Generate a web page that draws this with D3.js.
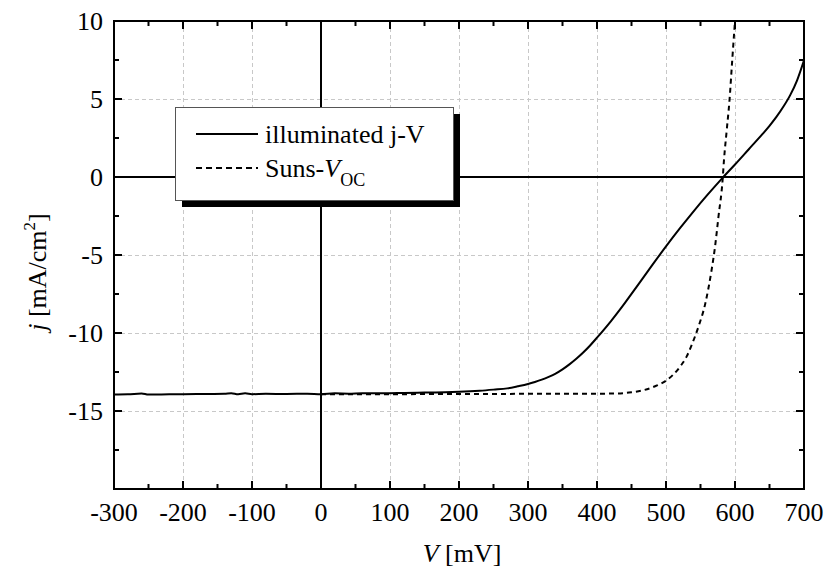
<!DOCTYPE html>
<html>
<head>
<meta charset="utf-8">
<script src="https://cdn.jsdelivr.net/npm/d3@7"></script>
<style>
  html, body { margin: 0; padding: 0; background: #fff; }
  svg { display: block; font-family: "Liberation Serif", "Times New Roman", serif; }
</style>
</head>
<body>
<svg id="chart" width="834" height="571"></svg>
<script>
// ---------- data ----------
const illumV = [-300,-280,-260,-250,-220,-200,-160,-140,-130,-120,-110,-100,-80,-50,-20,0,20,40,60,80,100,120,150,180,200,230,250,270,285,300,310,320,330,340,350,360,370,380,390,400,420,440,460,480,500,520,540,560,580,600,620,640,650,660,670,680,690,700];
const illumJ = [-13.94,-13.93,-13.88,-13.95,-13.93,-13.92,-13.91,-13.9,-13.86,-13.93,-13.87,-13.92,-13.9,-13.91,-13.89,-13.93,-13.87,-13.89,-13.86,-13.87,-13.86,-13.84,-13.82,-13.8,-13.77,-13.7,-13.63,-13.55,-13.42,-13.27,-13.14,-12.99,-12.81,-12.6,-12.33,-12.01,-11.65,-11.25,-10.8,-10.3,-9.25,-8.1,-6.88,-5.65,-4.45,-3.3,-2.2,-1.15,-0.15,0.8,1.78,2.76,3.28,3.85,4.5,5.25,6.2,7.48];
const sunsV = [0,100,200,300,400,430,450,467,485,501,520,530,537,547,557,566,571,576,582,584,588,592,596,600];
const sunsJ = [-13.92,-13.92,-13.91,-13.9,-13.89,-13.88,-13.8,-13.67,-13.4,-13.03,-12.18,-11.5,-10.79,-9.6,-8.1,-5.98,-4.49,-2.56,-0.2,1.07,3.0,4.9,7.5,10.0];
const xMajor = [-300,-200,-100,0,100,200,300,400,500,600,700];
const xMinor = [-250,-150,-50,50,150,250,350,450,550,650];
const yMajor = [-20,-15,-10,-5,0,5,10];
const yLabels = [10,5,0,-5,-10,-15];
const yMinor = [-17.5,-12.5,-7.5,-2.5,2.5,7.5];
const seriesNames = ["illuminated j-V", "Suns-"];

// ---------- layout ----------
const L = 114, R = 804, T = 21, B = 489;
const x = d3.scaleLinear().domain([-300, 700]).range([L, R]);
const y = d3.scaleLinear().domain([-20, 10]).range([B, T]);
const svg = d3.select("#chart");

svg.append("defs").append("clipPath").attr("id", "clip")
  .append("rect").attr("x", L).attr("y", T).attr("width", R - L).attr("height", B - T);

// grid
const grid = svg.append("g").attr("stroke", "#c8c8c8").attr("stroke-width", 1).attr("stroke-dasharray", "4,3");
grid.selectAll("line.gx").data(xMajor.filter(v => v !== 0 && v > -300 && v < 700)).join("line")
  .attr("x1", d => x(d) + 0.5).attr("x2", d => x(d) + 0.5).attr("y1", T).attr("y2", B);
grid.selectAll("line.gy").data(yMajor.filter(v => v !== 0 && v > -20 && v < 10)).join("line")
  .attr("y1", d => Math.round(y(d)) + 0.5).attr("y2", d => Math.round(y(d)) + 0.5).attr("x1", L).attr("x2", R);

// zero lines
svg.append("line").attr("x1", x(0)).attr("x2", x(0)).attr("y1", T).attr("y2", B).attr("stroke", "#000").attr("stroke-width", 2);
svg.append("line").attr("x1", L).attr("x2", R).attr("y1", y(0)).attr("y2", y(0)).attr("stroke", "#000").attr("stroke-width", 2);

// curves
const line = d3.line().x(d => x(d[0])).y(d => y(d[1])).curve(d3.curveMonotoneX);
const curves = svg.append("g").attr("clip-path", "url(#clip)");
curves.append("path").datum(sunsV.map((v, i) => [v, sunsJ[i]]))
  .attr("d", line).attr("fill", "none").attr("stroke", "#000").attr("stroke-width", 2).attr("stroke-dasharray", "5,4");
curves.append("path").datum(illumV.map((v, i) => [v, illumJ[i]]))
  .attr("d", line).attr("fill", "none").attr("stroke", "#000").attr("stroke-width", 2);

// legend
const lg = svg.append("g");
lg.append("rect").attr("x", 182).attr("y", 114).attr("width", 278).attr("height", 93).attr("fill", "#000");
lg.append("rect").attr("x", 175.5).attr("y", 107.5).attr("width", 278).attr("height", 93).attr("fill", "#fff").attr("stroke", "#555").attr("stroke-width", 1);
lg.append("line").attr("x1", 196).attr("x2", 258).attr("y1", 134).attr("y2", 134).attr("stroke", "#000").attr("stroke-width", 2);
lg.append("line").attr("x1", 196).attr("x2", 258).attr("y1", 168).attr("y2", 168).attr("stroke", "#000").attr("stroke-width", 2).attr("stroke-dasharray", "6,4");
lg.append("text").attr("x", 265).attr("y", 143).attr("font-size", 26).text(seriesNames[0]);
const t2 = lg.append("text").attr("x", 265).attr("y", 177).attr("font-size", 26);
t2.append("tspan").text(seriesNames[1]);
t2.append("tspan").attr("font-style", "italic").text("V");
t2.append("tspan").attr("font-size", 18).attr("dy", 9).text("OC");

// frame
svg.append("rect").attr("x", L).attr("y", T).attr("width", R - L).attr("height", B - T)
  .attr("fill", "none").attr("stroke", "#000").attr("stroke-width", 2);

// ticks
const tk = svg.append("g").attr("stroke", "#000").attr("stroke-width", 2);
const maj = 8, mnr = 5;
xMajor.forEach(v => {
  tk.append("line").attr("x1", x(v)).attr("x2", x(v)).attr("y1", B).attr("y2", B - maj);
  tk.append("line").attr("x1", x(v)).attr("x2", x(v)).attr("y1", T).attr("y2", T + maj);
});
xMinor.forEach(v => {
  tk.append("line").attr("x1", x(v)).attr("x2", x(v)).attr("y1", B).attr("y2", B - mnr);
  tk.append("line").attr("x1", x(v)).attr("x2", x(v)).attr("y1", T).attr("y2", T + mnr);
});
yMajor.forEach(v => {
  tk.append("line").attr("y1", y(v)).attr("y2", y(v)).attr("x1", L).attr("x2", L + maj);
  tk.append("line").attr("y1", y(v)).attr("y2", y(v)).attr("x1", R).attr("x2", R - maj);
});
yMinor.forEach(v => {
  tk.append("line").attr("y1", y(v)).attr("y2", y(v)).attr("x1", L).attr("x2", L + mnr);
  tk.append("line").attr("y1", y(v)).attr("y2", y(v)).attr("x1", R).attr("x2", R - mnr);
});

// tick labels
svg.append("g").selectAll("text").data(xMajor).join("text")
  .attr("x", d => x(d)).attr("y", 521).attr("text-anchor", "middle").attr("font-size", 26).text(d => d);
svg.append("g").selectAll("text").data(yLabels).join("text")
  .attr("x", 103).attr("y", d => y(d)).attr("dy", "0.35em").attr("text-anchor", "end").attr("font-size", 26).text(d => d);

// axis titles
const xt = svg.append("text").attr("x", 462).attr("y", 562).attr("text-anchor", "middle").attr("font-size", 26);
xt.append("tspan").attr("font-style", "italic").text("V");
xt.append("tspan").text(" [mV]");

const yt = svg.append("text").attr("transform", "translate(46,272) rotate(-90)").attr("text-anchor", "middle").attr("font-size", 26);
yt.append("tspan").attr("font-style", "italic").text("j");
yt.append("tspan").text(" [mA/cm");
yt.append("tspan").attr("font-size", 17).attr("dy", -11).text("2");
yt.append("tspan").attr("dy", 11).text("]");
</script>
</body>
</html>
